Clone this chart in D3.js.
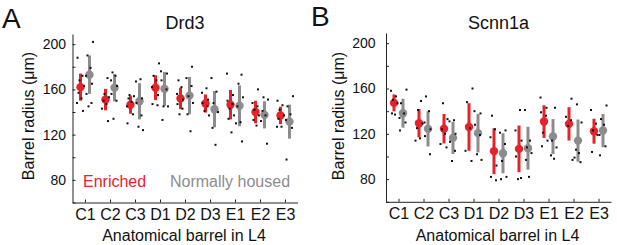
<!DOCTYPE html>
<html>
<head>
<meta charset="utf-8">
<script src="https://cdn.jsdelivr.net/npm/d3@7"></script>
<style>
  html, body { margin: 0; padding: 0; background: #fff; }
  svg { display: block; font-family: "Liberation Sans", Arial, sans-serif; }
</style>
</head>
<body>
<svg id="chart" width="617" height="245"></svg>
<script>
// ---------- data ----------
const categories = ["C1", "C2", "C3", "D1", "D2", "D3", "E1", "E2", "E3"];
const groupNames = ["Enriched", "Normally housed"];
const yTickValues = [60, 80, 100, 120, 140, 160, 180, 200];
const yTickLabels = [80, 120, 160, 200];

// Panel A: Drd3
const drd3EnrichedMean = [162, 151, 146.5, 161.5, 152, 147.5, 146.5, 140, 137];
const drd3EnrichedSD   = [12, 9.5, 8, 11, 9.5, 8, 13, 10, 7.7];
const drd3HousedMean   = [173, 161.5, 149.5, 160.5, 154.5, 142.5, 145.5, 137.5, 131.5];
const drd3HousedSD     = [17, 12, 16, 15, 16.5, 16, 18, 12, 15];
const drd3EnrichedPts = [
  [188, 172, 168, 163, 157, 152, 148, 141],
  [170, 156, 153, 150, 147, 143, 132],
  [155, 154, 152, 149, 145, 138, 130],
  [183, 172, 168, 162, 155, 147, 146],
  [168, 162, 156, 151, 147, 143, 138],
  [161, 157, 151, 148, 145, 141, 137],
  [174, 155, 150, 147, 143, 137, 134, 122],
  [160, 148, 145, 142, 137, 133, 128],
  [150, 146, 142, 137, 134, 127, 127]
];
const drd3HousedPts = [
  [202, 190, 179, 172, 165, 156, 148, 145],
  [175, 172, 168, 163, 156, 150, 134],
  [169, 167, 152, 148, 137, 127, 124],
  [176, 174, 168, 160, 145, 145, 133],
  [180, 170, 163, 154, 148, 138, 123],
  [170, 158, 148, 140, 126, 111],
  [173, 165, 153, 145, 131, 130, 114],
  [153, 151, 141, 137, 132, 112],
  [154, 145, 138, 133, 126, 98]
];

// Panel B: Scnn1a
const scnnEnrichedMean = [147.3, 129.4, 124.5, 126, 104.7, 106.7, 130.8, 128.8, 122.3];
const scnnEnrichedSD   = [7.5, 12.5, 13, 21, 20.3, 20.6, 14.4, 14.7, 11];
const scnnHousedMean   = [138.2, 124.4, 116.4, 120.6, 102.9, 107.3, 117.6, 114, 122.9];
const scnnHousedSD     = [12.8, 15.5, 14.2, 17, 17.7, 18.9, 15.4, 18.6, 14.7];
const scnnEnrichedPts = [
  [158, 153, 150, 147, 138, 137],
  [149, 141, 129, 125, 116, 114],
  [147, 133, 124, 120, 111, 108],
  [160, 148, 125, 105, 96],
  [136, 124, 117, 92, 82, 79],
  [141, 123, 114, 100, 81, 80],
  [152, 143, 139, 136, 121, 114, 109],
  [151, 135, 132, 127, 97],
  [141, 129, 123, 119, 104]
];
const scnnHousedPts = [
  [159, 147, 138, 134, 130, 123],
  [153, 140, 130, 124, 118, 102],
  [132, 131, 120, 113, 105, 96],
  [140, 138, 128, 119, 102, 97],
  [123, 121, 111, 96, 82, 80],
  [141, 114, 108, 103, 97, 82],
  [143, 114, 108, 101, 98],
  [146, 130, 106, 103, 99, 95],
  [145, 133, 128, 119, 109, 101]
];

// ---------- style ----------
const RED = "#e5232a";
const GRAY = "#8c8c8c";
const AXIS = "#222";
const jitter = [-3, 2, -1, 3.5, -2, 1, -3.5, 2.5];

const svg = d3.select("#chart");

function drawPanel(cfg) {
  const g = svg.append("g");
  const x = d3.scaleLinear().domain([0.5, 9.5]).range([cfg.x0, cfg.x1]);
  const y = d3.scaleLinear().domain([60, 209]).range([cfg.yBottom, cfg.yBottom - 149 * cfg.pxPerUnit]);

  const groups = [
    { name: groupNames[0], mean: cfg.eMean, sd: cfg.eSD, pts: cfg.ePts, color: RED, dx: -4.5 },
    { name: groupNames[1], mean: cfg.nMean, sd: cfg.nSD, pts: cfg.nPts, color: GRAY, dx: 4.5 }
  ];

  // axes
  const yAxis = d3.axisLeft(y)
    .tickValues(yTickValues)
    .tickSizeInner(-3).tickSizeOuter(0)
    .tickPadding(cfg.yPad)
    .tickFormat(d => yTickLabels.includes(d) ? d : "");
  const ya = g.append("g").attr("transform", `translate(${cfg.x0},0)`).call(yAxis);

  const xAxis = d3.axisBottom(x)
    .tickValues(d3.range(1, 10))
    .tickSizeInner(-3).tickSizeOuter(0)
    .tickPadding(6)
    .tickFormat((d, i) => categories[i]);
  const xa = g.append("g").attr("transform", `translate(0,${cfg.yBottom})`).call(xAxis);

  [ya, xa].forEach(a => {
    a.select(".domain").attr("stroke", AXIS).attr("stroke-width", 1);
    a.selectAll(".tick line").attr("stroke", AXIS);
    a.selectAll("text").attr("fill", "#111").attr("font-family", "Liberation Sans, Arial, sans-serif");
  });
  ya.selectAll("text").attr("font-size", 14);
  xa.selectAll("text").attr("font-size", 16);

  // error bars
  groups.forEach(gr => {
    g.append("g").selectAll("line")
      .data(categories.map((c, i) => i))
      .join("line")
      .attr("x1", i => x(i + 1) + gr.dx)
      .attr("x2", i => x(i + 1) + gr.dx)
      .attr("y1", i => y(gr.mean[i] + gr.sd[i]))
      .attr("y2", i => y(gr.mean[i] - gr.sd[i]))
      .attr("stroke", gr.color)
      .attr("stroke-width", 3);
  });
  // means
  groups.forEach(gr => {
    g.append("g").selectAll("circle")
      .data(categories.map((c, i) => i))
      .join("circle")
      .attr("cx", i => x(i + 1) + gr.dx)
      .attr("cy", i => y(gr.mean[i]))
      .attr("r", 4.2)
      .attr("fill", gr.color);
  });
  // individual points
  groups.forEach((gr, gi) => {
    const flat = [];
    gr.pts.forEach((arr, i) => arr.forEach((v, k) => flat.push({ i, v, k })));
    g.append("g").selectAll("rect")
      .data(flat)
      .join("rect")
      .attr("x", d => x(d.i + 1) + gr.dx + jitter[(d.k + gi * 3 + d.i) % jitter.length] - 1)
      .attr("y", d => y(d.v) - 1)
      .attr("width", 2)
      .attr("height", 2)
      .attr("fill", "#111");
  });

  // titles
  g.append("text").attr("x", cfg.letterX).attr("y", cfg.letterY)
    .attr("font-size", 28).attr("fill", "#111").text(cfg.letter);
  g.append("text").attr("x", (cfg.x0 + cfg.x1) / 2).attr("y", 28.5)
    .attr("text-anchor", "middle").attr("font-size", 18).attr("fill", "#111").text(cfg.title);
  g.append("text").attr("x", (cfg.x0 + cfg.x1) / 2 - 1).attr("y", 241)
    .attr("text-anchor", "middle").attr("font-size", 16).attr("fill", "#111")
    .text("Anatomical barrel in L4");
  g.append("text")
    .attr("transform", `translate(${cfg.yTitleX},116) rotate(-90)`)
    .attr("text-anchor", "middle").attr("font-size", 16).attr("fill", "#111")
    .text("Barrel radius (μm)");

  if (cfg.legend) {
    g.append("text").attr("x", 83).attr("y", 187).attr("font-size", 16)
      .attr("fill", RED).text(groupNames[0]);
    g.append("text").attr("x", 170).attr("y", 187).attr("font-size", 16)
      .attr("fill", GRAY).text(groupNames[1]);
  }
}

drawPanel({
  letter: "A", letterX: 2, letterY: 28, title: "Drd3",
  x0: 72.5, x1: 297.5, yBottom: 202.5, pxPerUnit: 1.131, yPad: 6.5, yTitleX: 34,
  eMean: drd3EnrichedMean, eSD: drd3EnrichedSD, ePts: drd3EnrichedPts,
  nMean: drd3HousedMean, nSD: drd3HousedSD, nPts: drd3HousedPts, legend: true
});
drawPanel({
  letter: "B", letterX: 311, letterY: 26, title: "Scnn1a",
  x0: 386, x1: 611, yBottom: 201.8, pxPerUnit: 1.133, yPad: 10.5, yTitleX: 344,
  eMean: scnnEnrichedMean, eSD: scnnEnrichedSD, ePts: scnnEnrichedPts,
  nMean: scnnHousedMean, nSD: scnnHousedSD, nPts: scnnHousedPts, legend: false
});
</script>
</body>
</html>
